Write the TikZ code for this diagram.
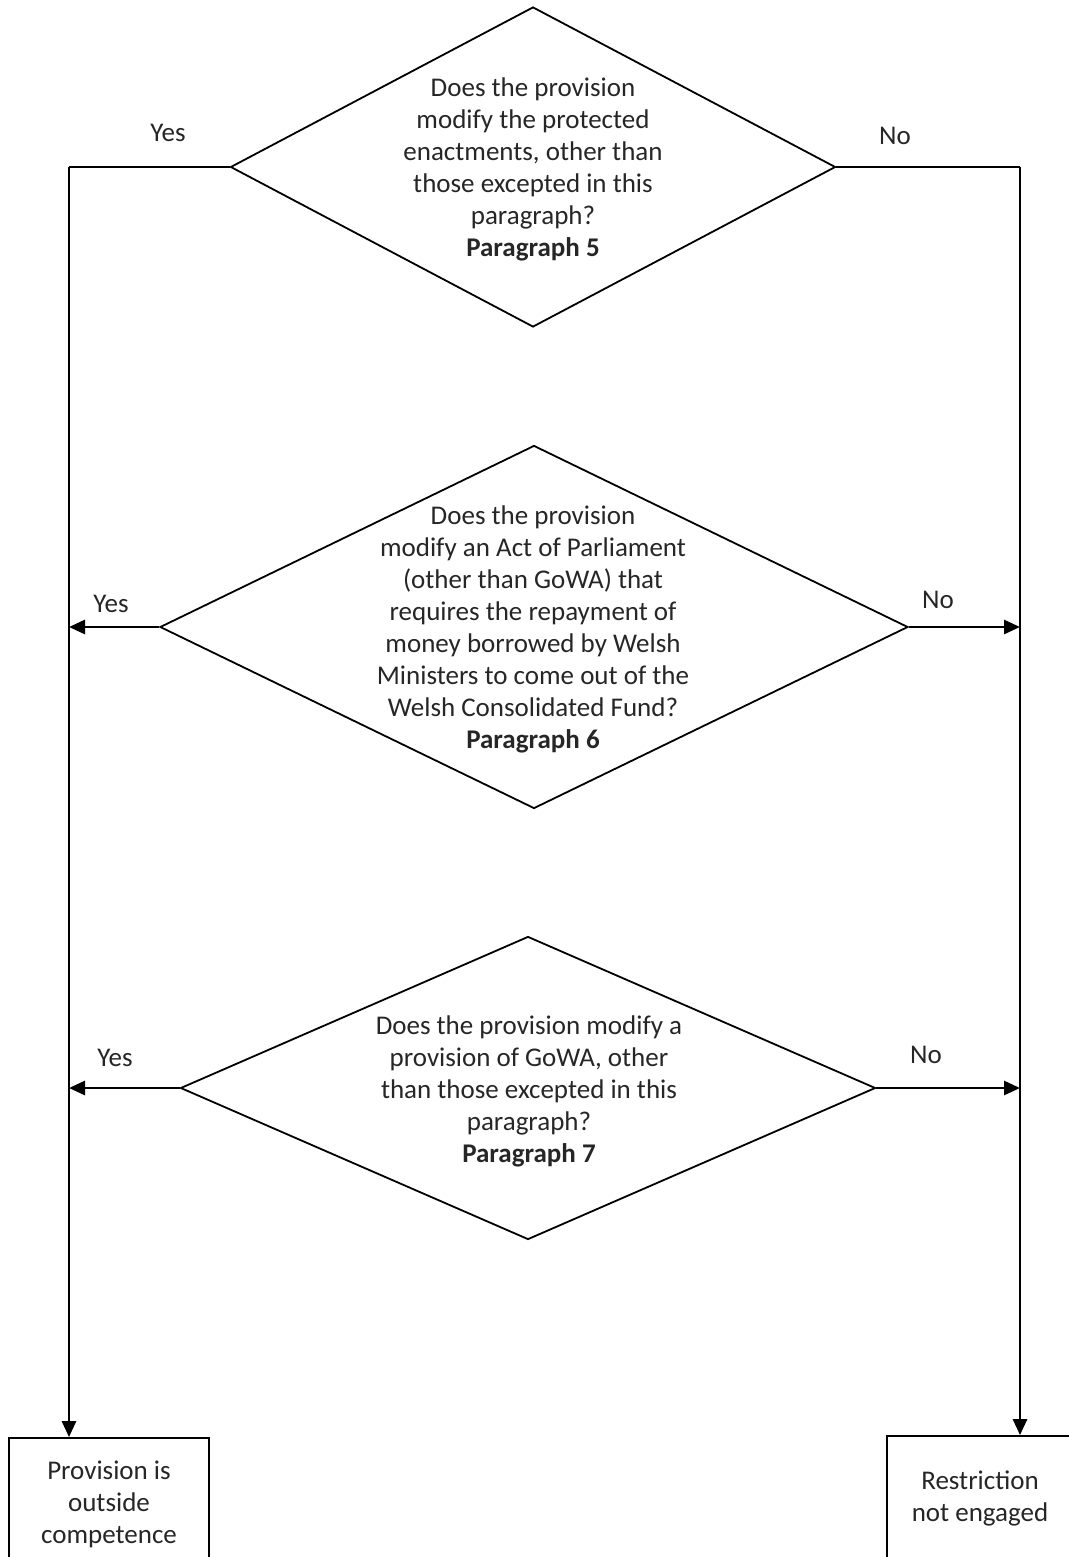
\documentclass[tikz,border=0pt]{standalone}
\usepackage{fontspec}
\setmainfont{Carlito}
\usetikzlibrary{arrows.meta,shapes.geometric,positioning}

\begin{document}
\begin{tikzpicture}[x=1pt,y=-1pt]
	\tikzset{every node/.style={font=\fontsize{27}{32}\selectfont, text=black!85},
		decision/.style={draw, diamond, line width=1.8pt, inner sep=0pt},
		endbox/.style={draw, rectangle, line width=1.8pt, align=center, inner sep=0pt},
		qtext/.style={align=center, inner sep=0pt},
		link/.style={line width=2.8pt},
		arr/.style={link, -{Triangle[length=16pt,width=14pt]}}}
	\useasboundingbox (0,0) rectangle (1068,1557);
	% questions
	\node [decision, minimum width=605pt, minimum height=320pt] (d1) at (533,167) {};
	\node [qtext] (q1) at (533,169) {Does the provision\\modify the protected\\enactments, other than\\those excepted in this\\paragraph?\\\textbf{Paragraph 5}};
	\node [decision, minimum width=748pt, minimum height=363pt] (d2) at (534,627) {};
	\node [qtext] (q2) at (533,629) {Does the provision\\modify an Act of Parliament\\(other than GoWA) that\\requires the repayment of\\money borrowed by Welsh\\Ministers to come out of the\\Welsh Consolidated Fund?\\\textbf{Paragraph 6}};
	\node [decision, minimum width=695pt, minimum height=303pt] (d3) at (528,1088) {};
	\node [qtext] (q3) at (529,1091) {Does the provision modify a\\provision of GoWA, other\\than those excepted in this\\paragraph?\\\textbf{Paragraph 7}};
	% outcomes
	\node [endbox, minimum width=200pt, minimum height=132pt] (out) at (109,1504) {Provision is\\outside\\competence};
	\node [endbox, minimum width=186pt, minimum height=124pt] (notengaged) at (980,1498) {Restriction\\not engaged};
	\coordinate (lcorner) at (69,167);
	\coordinate (rcorner) at (1020,167);
	% connectors
	\draw [link] (d1.west) -- (lcorner);
	\draw [arr] (lcorner) -- (lcorner |- out.north);
	\draw [link] (d1.east) -- (rcorner);
	\draw [arr] (rcorner) -- (rcorner |- notengaged.north);
	\draw [arr] (d2.west) -- (d2.west -| lcorner);
	\draw [arr] (d2.east) -- (d2.east -| rcorner);
	\draw [arr] (d3.west) -- (d3.west -| lcorner);
	\draw [arr] (d3.east) -- (d3.east -| rcorner);
	% labels
	\node (y1) at (168,133) {Yes};
	\node (n1) at (895,136) {No};
	\node (y2) at (111,604) {Yes};
	\node (n2) at (938,600) {No};
	\node (y3) at (115,1058) {Yes};
	\node (n3) at (926,1055) {No};
\end{tikzpicture}
\end{document}
